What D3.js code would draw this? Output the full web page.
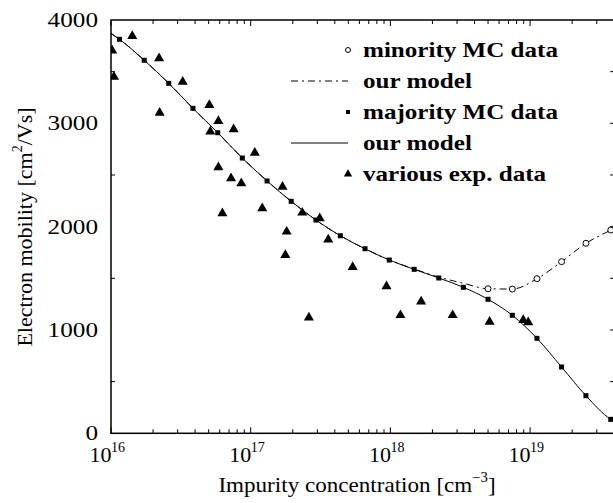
<!DOCTYPE html>
<html>
<head>
<meta charset="utf-8">
<script src="https://cdnjs.cloudflare.com/ajax/libs/d3/7.8.5/d3.min.js"></script>
<style>
  body { margin: 0; background: #fff; }
  text { font-family: "Liberation Serif", "Times New Roman", serif; fill: #000; }
</style>
</head>
<body>
<div id="graph"></div>
<script>
// majority MC data (squares)
let majConc = [1.15e16, 1.73e16, 2.59e16, 3.86e16, 5.81e16, 8.71e16, 1.31e17, 1.95e17, 2.93e17, 4.38e17,
    6.58e17, 9.82e17, 1.48e18, 2.22e18, 3.33e18, 5.0e18, 7.46e18, 1.12e19, 1.68e19, 2.51e19, 3.78e19];
let majMob = [3813, 3610, 3387, 3145, 2909, 2664, 2442, 2245, 2064, 1912,
    1786, 1677, 1587, 1503, 1413, 1297, 1142, 919, 642, 364, 135];

// minority MC data (circles)
let minConc = [5.0e18, 7.46e18, 1.12e19, 1.68e19, 2.51e19, 3.78e19];
let minMob = [1399, 1396, 1496, 1661, 1839, 1967];

// our model, majority (solid)
let modelMajConc = [1e16, 1.15e16, 1.73e16, 2.59e16, 3.86e16, 5.81e16, 8.71e16, 1.31e17, 1.95e17, 2.93e17, 4.38e17,
    6.58e17, 9.82e17, 1.48e18, 2.22e18, 3.33e18, 5.0e18, 7.46e18, 1.12e19, 1.68e19, 2.51e19, 3.78e19, 4e19];
let modelMajMob = [3871, 3813, 3610, 3387, 3145, 2909, 2664, 2442, 2245, 2064, 1912,
    1786, 1677, 1587, 1503, 1413, 1297, 1142, 919, 642, 364, 135, 115];

// our model, minority (dash-dot)
let modelMinConc = [1e16, 1.15e16, 1.73e16, 2.59e16, 3.86e16, 5.81e16, 8.71e16, 1.31e17, 1.95e17, 2.93e17, 4.38e17,
    6.58e17, 9.82e17, 1.48e18, 2.22e18, 3.33e18, 5.0e18, 7.46e18, 1.12e19, 1.68e19, 2.51e19, 3.78e19, 4e19];
let modelMinMob = [3871, 3813, 3610, 3387, 3145, 2909, 2664, 2442, 2245, 2064, 1912,
    1786, 1677, 1590, 1512, 1452, 1399, 1396, 1496, 1661, 1839, 1967, 1985];

// various experimental data (triangles)
let expConc = [1.02e16, 1.05e16, 1.42e16, 2.21e16, 2.23e16, 3.26e16, 5.06e16, 5.87e16, 5.14e16, 7.55e16,
    5.87e16, 7.23e16, 8.57e16, 6.27e16, 1.07e17, 1.21e17, 1.69e17, 1.81e17, 1.77e17, 2.34e17,
    3.12e17, 3.59e17, 5.37e17, 9.38e17, 1.66e18, 2.61e17, 1.18e18, 2.79e18, 5.13e18, 8.93e18, 9.70e18];
let expMob = [3703, 3451, 3845, 3629, 3102, 3402, 3177, 3022, 2919, 2942,
    2574, 2468, 2419, 2129, 2715, 2177, 2386, 1951, 1725, 2135,
    2081, 1875, 1609, 1423, 1275, 1121, 1143, 1143, 1079, 1096, 1074];

let yTicks = [0, 1000, 2000, 3000, 4000];
let xDecades = [16, 17, 18, 19];

let legendLabels = ["minority MC data", "our model", "majority MC data", "our model", "various exp. data"];

const width = 613, height = 503;
const plot = {left: 111, top: 20, right: 614.2, bottom: 433.3};

let svg = d3.select("#graph")
    .append("svg")
    .attr("width", width)
    .attr("height", height);

// scales
let x = d3.scaleLog()
    .domain([1e16, 4e19])
    .range([plot.left, plot.right]);

let y = d3.scaleLinear()
    .domain([0, 4000])
    .range([plot.bottom, plot.top]);

svg.append("clipPath")
    .attr("id", "clip")
    .append("rect")
    .attr("x", plot.left)
    .attr("y", plot.top)
    .attr("width", plot.right - plot.left)
    .attr("height", plot.bottom - plot.top);

// minor x ticks (top and bottom)
let xMinor = [];
for (let e = 16; e <= 19; e++) {
    for (let m = 2; m <= 9; m++) {
        if (m * Math.pow(10, e) <= 4e19) xMinor.push(m * Math.pow(10, e));
    }
}
let ticks = svg.append("g").attr("stroke", "#000").attr("stroke-width", 1);

xMinor.forEach(v => {
    ticks.append("line").attr("x1", x(v)).attr("x2", x(v)).attr("y1", plot.bottom).attr("y2", plot.bottom - 4);
    ticks.append("line").attr("x1", x(v)).attr("x2", x(v)).attr("y1", plot.top).attr("y2", plot.top + 4);
});
xDecades.forEach(e => {
    let v = Math.pow(10, e);
    ticks.append("line").attr("x1", x(v)).attr("x2", x(v)).attr("y1", plot.bottom).attr("y2", plot.bottom - 6);
    ticks.append("line").attr("x1", x(v)).attr("x2", x(v)).attr("y1", plot.top).attr("y2", plot.top + 6);
});

// y ticks: left only at half steps, right at every 500
d3.range(500, 4000, 500).forEach(v => {
    if (v % 1000 != 0) {
        ticks.append("line").attr("x1", plot.left).attr("x2", plot.left + 4).attr("y1", y(v)).attr("y2", y(v));
    }
    ticks.append("line").attr("x1", plot.right - 4).attr("x2", plot.right).attr("y1", y(v)).attr("y2", y(v));
});

// frame
svg.append("rect")
    .attr("x", plot.left)
    .attr("y", plot.top)
    .attr("width", plot.right - plot.left)
    .attr("height", plot.bottom - plot.top)
    .attr("fill", "none")
    .attr("stroke", "#000")
    .attr("stroke-width", 1.5);

// y tick labels (the original print is a bit wide)
svg.append("g").selectAll("text")
    .data(yTicks)
    .enter()
    .append("text")
    .attr("transform", d => `translate(98, ${y(d) + 7}) scale(1.2, 1)`)
    .style("text-anchor", "end")
    .style("font-size", "21px")
    .text(d => d);

// x tick labels 10^n
let xl = svg.append("g").selectAll("g")
    .data(xDecades)
    .enter()
    .append("g");
xl.append("text")
    .attr("x", d => x(Math.pow(10, d)) + 0.5)
    .attr("y", 462)
    .style("text-anchor", "end")
    .style("font-size", "22px")
    .text("10");
xl.append("text")
    .attr("x", d => x(Math.pow(10, d)))
    .attr("y", 452)
    .style("text-anchor", "start")
    .style("font-size", "14px")
    .text(d => d);

// axis labels
let xLabel = svg.append("text")
    .attr("transform", "translate(357, 492) scale(1.05, 1)")
    .style("text-anchor", "middle")
    .style("font-size", "22px");
xLabel.append("tspan").text("Impurity concentration [cm");
xLabel.append("tspan").attr("dy", -10).style("font-size", "14px").text("\u22123");
xLabel.append("tspan").attr("dy", 10).text("]");

let yLabel = svg.append("text")
    .attr("transform", "translate(32, 227) rotate(-90)")
    .style("text-anchor", "middle")
    .style("font-size", "22px");
yLabel.append("tspan").text("Electron mobility [cm");
yLabel.append("tspan").attr("dy", -10).style("font-size", "14px").text("2");
yLabel.append("tspan").attr("dy", 10).text("/Vs]");

// data group
let plotArea = svg.append("g").attr("clip-path", "url(#clip)");

let line = d3.line()
    .x(d => x(d[0]))
    .y(d => y(d[1]))
    .curve(d3.curveMonotoneX);

plotArea.append("path")
    .datum(modelMinConc.map((c, i) => [c, modelMinMob[i]]))
    .attr("d", line)
    .attr("fill", "none")
    .attr("stroke", "#000")
    .attr("stroke-width", 1)
    .attr("stroke-dasharray", "7,4,2,4");

plotArea.append("path")
    .datum(modelMajConc.map((c, i) => [c, modelMajMob[i]]))
    .attr("d", line)
    .attr("fill", "none")
    .attr("stroke", "#000")
    .attr("stroke-width", 1);

let triangle = d3.symbol().type(d3.symbolTriangle).size(44);

plotArea.selectAll(".exp")
    .data(expConc.map((c, i) => [c, expMob[i]]))
    .enter()
    .append("path")
    .attr("class", "exp")
    .attr("d", triangle)
    .attr("transform", d => `translate(${x(d[0])}, ${y(d[1])})`)
    .attr("fill", "#000");

plotArea.selectAll(".maj")
    .data(majConc.map((c, i) => [c, majMob[i]]))
    .enter()
    .append("rect")
    .attr("class", "maj")
    .attr("x", d => x(d[0]) - 2.5)
    .attr("y", d => y(d[1]) - 2.5)
    .attr("width", 5)
    .attr("height", 5)
    .attr("fill", "#000");

plotArea.selectAll(".min")
    .data(minConc.map((c, i) => [c, minMob[i]]))
    .enter()
    .append("circle")
    .attr("class", "min")
    .attr("cx", d => x(d[0]))
    .attr("cy", d => y(d[1]))
    .attr("r", 3)
    .attr("fill", "#fff")
    .attr("stroke", "#000")
    .attr("stroke-width", 1);

// legend
let legend = svg.append("g");
let rowY = i => 50 + i * 31;

legend.selectAll("text")
    .data(legendLabels)
    .enter()
    .append("text")
    .attr("transform", (d, i) => `translate(363, ${rowY(i) + 7}) scale(1.14, 1)`)
    .style("font-size", "22px")
    .style("font-weight", "bold")
    .text(d => d);

legend.append("circle")
    .attr("cx", 348).attr("cy", rowY(0)).attr("r", 2.5)
    .attr("fill", "#fff").attr("stroke", "#000").attr("stroke-width", 1);
legend.append("line")
    .attr("x1", 291).attr("x2", 348).attr("y1", rowY(1)).attr("y2", rowY(1))
    .attr("stroke", "#000").attr("stroke-dasharray", "7,4,2,4");
legend.append("rect")
    .attr("x", 346).attr("y", rowY(2) - 2).attr("width", 4).attr("height", 4)
    .attr("fill", "#000");
legend.append("line")
    .attr("x1", 291).attr("x2", 348).attr("y1", rowY(3)).attr("y2", rowY(3))
    .attr("stroke", "#000");
legend.append("path")
    .attr("d", d3.symbol().type(d3.symbolTriangle).size(30))
    .attr("transform", `translate(348, ${rowY(4)})`)
    .attr("fill", "#000");
</script>
</body>
</html>
